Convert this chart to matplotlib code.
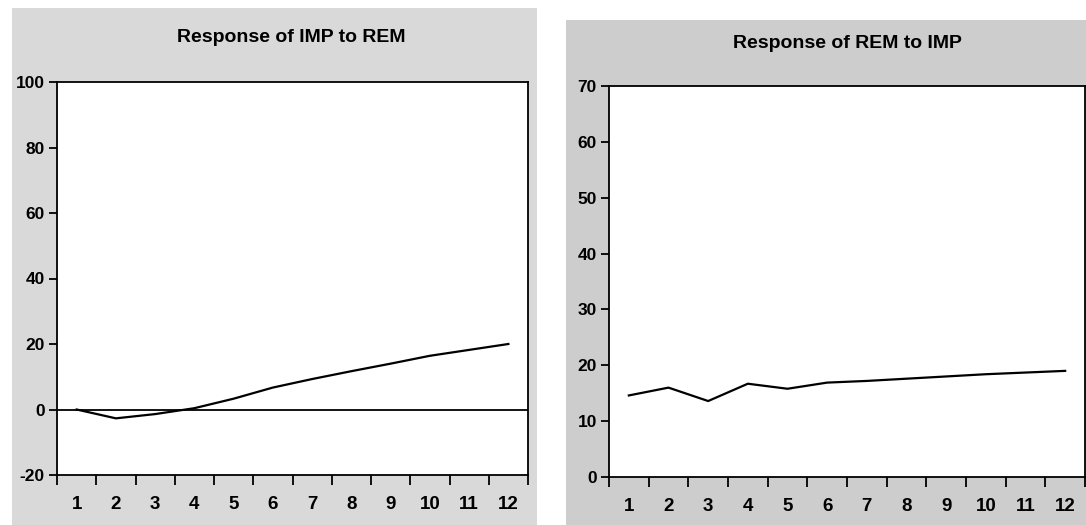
import matplotlib
matplotlib.use("Agg")
import matplotlib.pyplot as plt
from matplotlib.patches import Rectangle

periods = list(range(1, 13))
imp_to_rem = [0.0, -2.7, -1.4, 0.4, 3.3, 6.7, 9.3, 11.7, 14.0, 16.4, 18.2, 20.0]
rem_to_imp = [14.6, 16.0, 13.6, 16.7, 15.8, 16.9, 17.2, 17.6, 18.0, 18.4, 18.7, 19.0]
titles = ["Response of IMP to REM", "Response of REM to IMP"]
left_yticks = [-20, 0, 20, 40, 60, 80, 100]
right_yticks = [0, 10, 20, 30, 40, 50, 60, 70]

plt.rcParams['font.family'] = ['Liberation Sans', 'DejaVu Sans']
W, H = 1086, 525
fig = plt.figure(figsize=(W / 100, H / 100), dpi=100)
fig.patch.set_facecolor('white')

# background axes for the gray panels
bg = fig.add_axes([0, 0, 1, 1], zorder=-10)
bg.set_xlim(0, W)
bg.set_ylim(H, 0)
bg.axis('off')
bg.add_patch(Rectangle((12, 8), 537 - 12, H - 8, facecolor='#d9d9d9', edgecolor='none'))
bg.add_patch(Rectangle((566, 20), W - 566, H - 20, facecolor='#cdcdcd', edgecolor='none'))

def make_panel(rect, data, ylim, yticks, title, title_y, title_x, zero_line):
    ax = fig.add_axes(rect, zorder=1)
    ax.set_facecolor('white')
    ax.plot(periods, data, color='black', lw=1.6, zorder=3)
    if zero_line:
        ax.axhline(0, color='black', lw=1.3, zorder=2)
    ax.set_xlim(0.5, 12.5)
    ax.set_ylim(*ylim)
    ax.set_yticks(yticks)
    ax.set_yticklabels([str(v) for v in yticks], fontsize=12.5, fontweight='bold')
    ax.set_xticks([p + 0.5 for p in [0] + periods])
    ax.set_xticklabels([])
    ax.set_xticks(periods, minor=True)
    ax.set_xticklabels([str(p) for p in periods], minor=True, fontsize=13.5,
                       fontweight='bold')
    ax.tick_params(axis='x', which='major', direction='out', length=7.2, width=1.3)
    ax.tick_params(axis='x', which='minor', length=0, pad=15)
    ax.tick_params(axis='y', direction='out', length=5.8, width=1.3, pad=3)
    for s in ax.spines.values():
        s.set_linewidth(1.3)
    fig.text(title_x / W, 1 - title_y / H, title, ha='center', va='center',
             fontsize=14, fontweight='bold')
    return ax

make_panel([57 / W, 1 - 475 / H, (528 - 57) / W, (475 - 82) / H],
           imp_to_rem, (-20, 100), left_yticks, titles[0], 37, 291, True)
make_panel([609 / W, 1 - 477 / H, (1085 - 609) / W, (477 - 86) / H],
           rem_to_imp, (0, 70), right_yticks, titles[1], 44, 847, False)

fig.savefig('out.png', dpi=100)
